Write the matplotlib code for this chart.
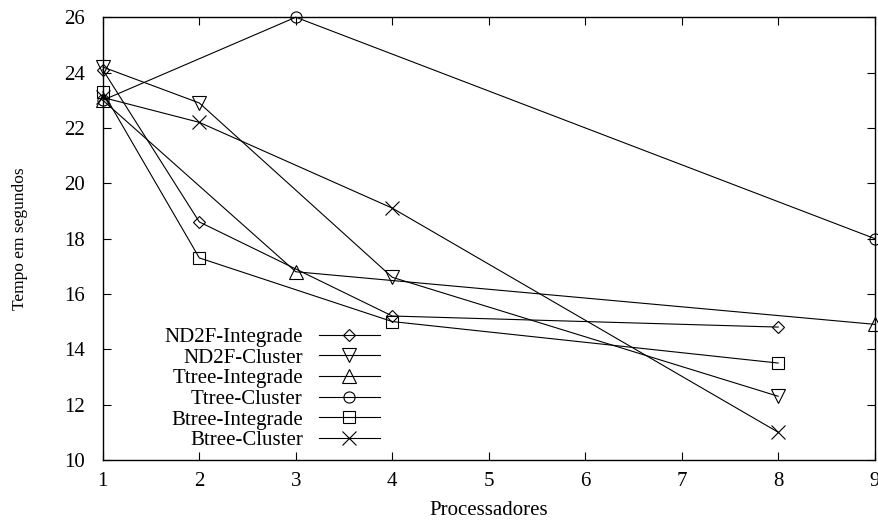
import matplotlib.pyplot as plt

plt.rcParams['font.family'] = ['Liberation Serif', 'DejaVu Serif']

# tempos de execucao (s) por numero de processadores
nd2f_int_x = [1, 2, 4, 8]
nd2f_int_y = [24.1, 18.6, 15.2, 14.8]
nd2f_clu_x = [1, 2, 4, 8]
nd2f_clu_y = [24.2, 22.9, 16.6, 12.3]
ttree_int_x = [1, 3, 9]
ttree_int_y = [23.0, 16.8, 14.9]
ttree_clu_x = [1, 3, 9]
ttree_clu_y = [23.0, 26.0, 18.0]
btree_int_x = [1, 2, 4, 8]
btree_int_y = [23.3, 17.3, 15.0, 13.5]
btree_clu_x = [1, 2, 4, 8]
btree_clu_y = [23.1, 22.2, 19.1, 11.0]

series = [
    ('ND2F-Integrade', nd2f_int_x, nd2f_int_y, 'D', 6.5),
    ('ND2F-Cluster', nd2f_clu_x, nd2f_clu_y, 'v', 10),
    ('Ttree-Integrade', ttree_int_x, ttree_int_y, '^', 10),
    ('Ttree-Cluster', ttree_clu_x, ttree_clu_y, 'o', 8),
    ('Btree-Integrade', btree_int_x, btree_int_y, 's', 9),
    ('Btree-Cluster', btree_clu_x, btree_clu_y, 'x', 10),
]

fig = plt.figure(figsize=(8.79, 5.22), dpi=100)
ax = fig.add_axes([0.117, 0.119, 0.878, 0.848])

for name, xs, ys, mk, ms in series:
    ax.plot(xs, ys, color='black', lw=0.8, marker=mk, ms=ms,
            mfc='none', mec='black', mew=0.8, label=name, clip_on=False)

ax.set_xlim(1, 9)
ax.set_ylim(10, 26)
ax.set_xticks(range(1, 10))
ax.set_yticks(range(10, 27, 2))
ax.tick_params(direction='in', top=True, right=True, length=6, width=0.8,
               labelsize=15)
ax.tick_params(axis='x', pad=9)
ax.tick_params(axis='y', pad=13)
for s in ax.spines.values():
    s.set_linewidth(1.0)

ax.set_xlabel('Processadores', fontsize=15, labelpad=7)
ax.set_ylabel('Tempo em segundos', fontsize=12.5)
ax.yaxis.set_label_coords(-0.097, 0.5)

ax.legend(loc='lower right', bbox_to_anchor=(0.359, 0.022), frameon=False,
          markerfirst=False, fontsize=15, labelspacing=0.05,
          handlelength=2.93, handletextpad=0.77, borderpad=0, borderaxespad=0)

fig.savefig('out.png', dpi=100)
